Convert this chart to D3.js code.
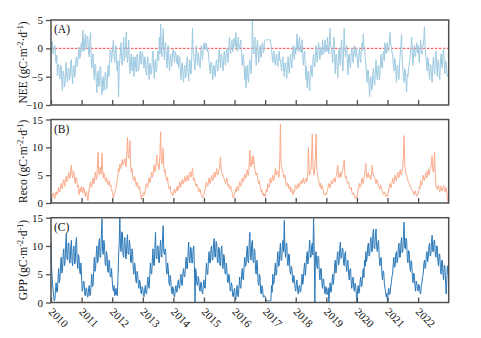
<!DOCTYPE html>
<html><head><meta charset="utf-8">
<script src="https://cdn.jsdelivr.net/npm/d3@7"></script>
<style>
body{margin:0;background:#fff;}
text{font-family:"Liberation Serif","Times New Roman",serif;fill:#111;}
</style>
</head><body>
<svg id="chart" width="481" height="338"></svg>
<script>
// ---- data (weekly-ish samples, 48 per year, 2010-2022) ----
const yearLabels = ["2010","2011","2012","2013","2014","2015","2016","2017","2018","2019","2020","2021","2022"];
const firstYear = 2010;
const stepsPerYear = 48;

const nee = [
 -0.3,-1.2,1.2,-0.5,-1.0,0.3,0.5,-1.6, -2.5,-1.2,-4.8,-3.0,-2.8,-4.5,-5.4,-3.2, -3.0,-6.0,-7.4,-4.0,-4.5,-6.8,-6.5,-3.5, -2.5,-5.2,-6.0,-3.8,-3.5,-5.6,-5.0,-2.4, -2.0,-4.8,-6.2,-3.3,-3.0,-5.1,-4.5,-2.0, -1.5,-3.2,-2.8,-0.8,0.2,-1.8,-1.5,0.4,
 1.0,-0.6,3.2,0.8,-0.5,1.5,2.5,-0.2, 0.5,2.2,1.8,-0.8,-1.5,1.0,2.8,-1.8, -3.5,-1.5,-1.0,-4.2,-5.5,-2.8,-3.0,-6.0, -7.8,-4.5,-4.0,-6.8,-6.5,-3.2,-3.5,-7.0, -8.2,-5.5,-5.0,-7.5,-7.0,-4.2,-4.5,-7.2, -6.8,-3.8,-3.0,-5.0,-2.0,-0.2,-0.5,-2.5,
 -1.0,0.4,1.5,-1.8,-2.5,-0.3,0.5,-2.8, -4.0,-2.2,-8.6,-3.5,-2.0,-0.5,1.0,-2.6, -3.0,-0.8,2.0,-2.2,-1.5,0.6,2.8,-1.2, -2.5,-0.5,1.5,-3.0,-4.5,-2.0,-1.0,-4.0, -3.5,-1.5,-5.0,-2.8,-1.5,-3.6,-4.2,-1.0, -2.0,-4.0,-3.5,-1.2,-0.5,-2.6,-2.8,-0.6,
 -1.0,-2.6,-3.5,-1.5,-2.0,-4.0,-4.8,-2.2, -1.5,-3.8,-5.5,-2.6,-3.0,-4.6,-4.0,-1.8, -0.5,-3.2,-5.3,-2.4,-2.0,-4.2,-3.5,-1.0, -0.5,-2.2,2.0,-1.0,4.3,0.5,-1.5,1.2, 3.5,-0.2,-2.0,0.8,1.0,-1.6,-3.5,-0.6, 0.5,-2.2,-4.0,-1.5,-1.0,-3.2,-2.5,-0.4,
 -0.2,-1.6,-2.5,-0.6,-1.0,-2.2,-2.8,-1.2, -3.5,-2.0,-1.5,-4.2,-5.5,-3.0,-2.5,-4.8, -6.0,-3.6,-3.0,-5.2,-4.8,-2.2,-1.5,-4.0, -5.8,-3.2,-2.0,-4.6,-4.5,-1.2,3.5,-0.5, -1.0,-3.0,-3.8,-1.4,0.5,-1.8,-3.0,-0.8, -1.5,-2.8,-3.5,-1.0,0.5,-1.2,-2.0,0.2,
 1.0,0.2,-0.2,0.9,0.8,-0.5,0.0,-1.0, -2.0,-3.5,-4.5,-2.5,-2.5,-4.2,-5.5,-3.0, -3.0,-4.6,-5.0,-2.4,-2.0,-3.5,-4.0,-1.6, -0.2,-2.2,-3.5,-1.0,-1.0,-3.2,-4.0,-1.8, -0.5,-2.6,-3.0,-0.8,0.0,-1.8,-2.5,0.2, 2.0,-0.4,-1.0,1.0,1.5,-0.6,0.0,1.8,
 1.5,0.2,2.8,0.8,-0.5,1.2,2.0,-0.2, 0.0,1.0,1.5,-1.2,-3.0,-1.8,-1.0,-3.6, -5.5,-3.2,-7.0,-4.2,-3.0,-5.4,-6.0,-2.8, -2.0,-3.8,-4.5,-1.2,5.0,0.8,-1.0,1.2, 2.0,-1.2,-3.0,0.4,1.5,-1.0,-2.5,0.2, 0.5,-1.6,-1.5,0.6,1.0,-0.8,-0.5,1.2,
 1.5,1.5,1.5,1.5,1.5,1.6,1.6,1.5, 1.5,0.8,0.0,-1.5,-2.5,-0.8,-0.5,-2.4, -3.0,-1.6,-1.0,-2.8,-3.2,-1.4,-0.5,-2.2, -2.0,-3.2,-4.0,-2.0,-1.5,-3.6,-5.0,-2.6, -2.5,-4.2,-5.3,-3.0,-1.5,-3.6,-4.5,-2.0, -1.0,-2.8,-3.5,-0.8,0.5,-1.2,-2.0,0.2,
 -1.0,0.6,2.5,-0.2,-0.5,1.2,2.0,-0.6, 0.5,-0.8,1.5,-1.5,-3.0,-1.2,-0.5,-3.4, -5.5,-3.2,-7.0,-4.4,-4.0,-6.2,-7.5,-3.8, -3.0,-4.6,-5.0,-2.0,-1.0,-2.6,-3.3,-1.2, 0.5,-1.6,-2.5,-0.2,1.0,-0.8,-2.0,0.2, 0.0,-1.2,1.5,-0.4,-1.0,0.6,1.5,-0.6,
 0.5,-0.6,2.0,0.2,-1.0,1.2,3.5,0.4, 0.0,-1.4,-2.5,0.4,2.0,-1.6,-4.5,-1.2, -1.0,-3.2,-5.2,-1.6,0.0,-1.8,-3.0,0.2, 1.5,-1.8,-4.0,-0.6,3.5,0.2,-1.5,-0.2, 0.5,-2.4,-4.7,-1.4,-1.0,-2.8,-3.5,-0.8, 0.0,-1.6,-2.5,-0.4,0.5,-1.0,-1.5,0.2,
 -1.0,-2.4,-3.5,-1.2,0.0,-1.8,-2.5,-0.4, 1.0,-0.4,2.5,0.6,0.0,-1.8,-3.0,-4.8, -6.0,-3.8,-4.0,-6.6,-8.5,-5.4,-5.0,-7.4, -7.0,-4.6,-3.5,-6.0,-6.5,-3.8,-2.0,-4.6, -5.5,-3.4,-3.0,-5.6,-5.0,-2.6,-1.0,-3.4, -3.5,-1.4,-0.5,-2.2,1.0,-0.6,-1.0,0.6,
 1.0,-0.6,-0.3,1.2,2.8,0.6,0.5,-0.8, -1.0,-2.6,-4.0,-1.8,-2.0,-4.4,-6.0,-3.2, -3.0,-4.8,-5.5,-2.6,-1.0,0.4,2.5,-1.6, -3.5,-5.2,-6.0,-3.6,-4.0,-6.2,-7.7,-4.6, -5.0,-3.4,-3.0,-1.8,-1.0,0.4,2.0,-1.2, -3.0,-0.8,0.5,-1.4,-1.5,0.2,1.0,-0.8,
 0.5,-1.2,-2.5,-0.2,1.5,-0.4,-1.0,0.6, 0.5,1.8,3.8,0.2,-1.0,-2.6,-4.0,-1.6, -2.0,-4.2,-5.5,-2.8,-3.0,-4.8,-6.0,-3.0, -1.5,-3.4,-4.5,-1.8,-0.5,-2.6,-5.0,-2.4, -2.0,-4.2,-5.5,-2.6,-1.0,-2.8,-3.5,-0.8, 0.0,-2.6,-4.5,-2.2,-2.5,-4.0,-5.0,-4.6
];

const reco = [
 1.5,1.2,1.0,1.6,1.8,1.1,0.8,1.4, 2.0,1.6,1.5,2.4,2.8,2.1,2.0,3.0, 3.5,2.8,2.5,3.8,4.2,3.2,3.0,4.4, 4.8,3.9,3.8,5.0,5.5,4.4,4.5,6.0, 6.8,5.0,4.5,5.8,5.6,4.2,3.5,4.6, 4.5,3.4,2.8,3.2,1.5,2.2,2.7,2.0,
 3.0,2.2,1.8,2.8,2.5,1.6,1.2,2.0, 2.0,1.0,0.4,1.8,2.5,3.2,3.8,2.8, 3.0,4.0,4.5,3.4,3.8,5.0,5.6,4.2, 4.5,7.0,9.2,5.5,5.0,6.4,6.0,5.2, 9.0,5.8,4.5,5.4,5.0,4.2,3.8,4.6, 4.2,3.5,3.2,4.0,3.8,3.0,3.2,2.6,
 2.0,1.4,0.9,1.6,1.8,2.4,2.8,3.4, 4.0,5.2,6.2,5.6,7.0,6.2,6.5,7.2, 7.8,6.8,7.0,7.6,8.0,6.8,6.5,9.5, 11.8,8.5,8.0,9.8,11.2,7.0,5.5,6.2, 5.0,4.2,4.0,4.8,4.5,3.6,3.0,3.8, 3.5,2.8,2.5,3.0,2.0,1.2,0.6,1.4,
 1.2,1.8,2.0,1.5,2.5,3.0,3.5,2.8, 3.0,4.0,4.5,3.6,4.0,5.0,5.5,4.6, 5.0,6.2,6.8,5.6,6.0,7.5,8.6,6.8, 7.0,6.0,6.5,9.0,12.8,8.0,7.0,8.5, 9.8,6.5,5.5,6.0,5.0,4.4,4.0,4.6, 3.2,2.8,2.5,3.0,2.0,1.6,1.8,1.4,
 1.5,2.2,2.5,1.8,2.0,2.6,3.0,2.2, 2.5,3.2,3.8,2.8,3.0,3.8,4.2,3.4, 3.5,4.2,4.8,3.8,4.0,4.6,5.0,4.0, 4.5,5.2,5.6,4.6,4.8,5.6,6.2,4.8, 4.0,4.4,3.8,3.2,3.0,3.4,2.8,2.4, 2.0,2.6,2.5,1.8,1.5,1.2,0.9,1.4,
 1.5,2.0,2.5,3.2,3.8,3.0,3.0,3.8, 4.5,3.6,3.5,4.4,5.0,4.2,4.0,4.8, 5.5,4.6,4.8,5.6,6.2,5.2,5.0,5.8, 6.0,7.2,8.3,6.0,5.5,5.0,5.0,4.6, 4.2,3.8,3.5,4.0,4.5,3.4,3.0,3.4, 2.5,2.8,3.0,2.4,2.0,1.4,0.9,1.4,
 1.5,2.0,2.5,2.0,3.0,2.6,2.2,3.0, 3.8,3.2,3.0,3.8,4.5,3.8,3.8,4.6, 5.2,4.4,4.5,5.4,6.0,5.0,5.0,7.0, 9.5,7.0,6.5,7.5,8.5,7.0,8.3,6.5, 6.0,5.2,5.0,5.4,4.5,3.8,3.5,4.0, 3.0,2.4,2.0,2.4,1.5,1.8,1.2,1.6,
 1.2,1.8,2.5,2.0,3.5,2.8,2.8,3.4, 4.5,3.6,3.8,4.4,5.0,4.0,4.2,5.0, 6.2,5.2,5.0,5.8,5.6,4.6,4.8,8.0, 14.2,7.0,6.5,5.8,5.6,4.8,4.5,5.0, 4.0,3.4,3.0,3.6,3.5,2.8,2.5,3.0, 2.0,2.6,2.5,1.8,1.5,2.2,2.0,2.8,
 3.2,2.6,2.5,3.2,3.5,2.8,3.0,3.6, 4.0,3.4,3.5,4.2,4.5,3.6,3.5,4.2, 4.5,3.8,4.0,6.0,10.0,6.0,5.0,5.8, 6.0,9.0,12.4,6.5,5.5,5.0,6.5,9.0, 12.4,6.0,5.0,4.6,4.0,3.4,3.0,3.6, 2.5,3.2,3.0,2.4,1.8,1.4,1.5,1.8,
 1.5,2.0,2.5,3.0,3.5,2.8,2.8,3.4, 4.0,3.4,3.5,4.2,4.5,3.8,3.8,4.6, 5.0,6.0,6.8,5.0,4.5,5.2,5.5,4.6, 5.0,5.8,6.0,6.8,7.7,5.5,4.5,4.8, 4.0,3.6,3.5,3.8,3.0,2.6,2.5,2.8, 2.0,1.6,1.5,1.8,1.2,0.8,0.9,1.2,
 1.0,1.8,2.5,3.0,3.5,2.8,3.0,3.6, 4.5,3.6,3.5,4.4,5.0,6.0,7.1,5.0, 4.5,5.2,5.5,4.6,5.0,4.4,4.2,5.4, 6.8,5.4,5.0,4.6,4.5,3.8,3.5,4.2, 4.0,3.4,3.0,2.6,2.5,3.2,3.0,2.4, 2.0,1.6,1.5,2.0,1.8,1.2,1.2,1.5,
 1.2,1.8,2.5,3.0,3.5,2.8,2.8,3.6, 4.5,3.6,3.5,4.4,5.0,4.2,4.0,4.8, 5.5,4.6,4.5,5.4,6.0,5.2,5.0,5.8, 6.5,9.0,12.1,7.0,6.0,5.4,5.0,4.6, 4.0,3.6,3.5,3.0,3.0,2.6,2.5,2.2, 2.0,1.6,1.5,2.2,2.0,1.4,1.2,1.6,
 1.5,2.4,3.0,2.6,4.0,3.2,3.5,4.2, 5.0,4.2,4.0,4.8,5.5,4.6,4.5,5.4, 6.0,5.0,5.5,6.2,6.5,7.0,8.5,6.0, 5.5,7.0,9.2,5.0,3.0,2.6,2.5,3.0, 3.2,2.4,2.0,2.6,3.0,2.2,2.2,2.8, 3.2,2.6,2.0,2.4,2.8,2.0,1.0,0.0
];

const gpp = [
 10.5,6.0,4.0,2.5,1.5,0.3,0.5,2.0, 3.5,1.8,2.0,4.0,6.0,3.5,4.0,6.5, 8.0,5.2,5.5,8.5,9.5,6.5,7.0,10.0, 12.2,7.8,7.5,10.5,10.5,7.0,7.0,9.8, 11.0,7.2,6.5,9.5,10.0,6.8,7.0,10.5, 11.5,7.5,6.0,8.5,8.0,5.5,5.0,7.0,
 4.5,2.0,2.5,3.8,3.5,1.5,1.2,2.6, 2.5,1.0,1.0,2.4,3.0,1.2,1.5,3.2, 5.0,2.8,3.0,5.5,8.0,5.5,6.0,8.5, 10.0,7.0,7.5,10.5,11.3,8.0,8.0,12.0, 14.8,9.0,8.5,11.0,10.0,6.8,6.5,9.0, 8.3,5.5,5.3,7.5,7.0,4.6,4.5,6.0,
 4.0,2.5,2.0,3.0,1.2,1.5,2.5,1.4, 1.2,4.0,8.0,10.5,15.0,10.0,9.0,12.5, 12.4,8.5,8.0,11.0,11.5,8.0,7.7,10.5, 12.0,8.6,8.5,11.0,10.0,7.2,7.0,9.5, 9.0,6.0,5.0,7.0,6.5,4.0,3.5,5.5, 5.0,3.0,2.5,4.0,3.5,1.8,1.5,2.8,
 2.5,1.2,1.0,2.2,3.0,1.6,1.5,3.2, 4.5,2.8,2.5,5.0,7.0,5.2,5.0,7.5, 9.5,6.6,6.5,9.5,12.4,8.0,7.7,10.0, 10.0,7.2,7.0,9.8,11.0,8.2,8.0,11.5, 13.6,9.0,8.5,9.5,9.0,5.6,5.0,7.0, 6.0,3.5,3.0,4.8,4.0,2.0,1.5,2.8,
 2.5,1.2,1.0,2.4,3.0,1.8,2.0,3.5, 4.0,2.6,2.5,4.4,5.0,3.2,3.0,5.2, 6.0,4.6,4.5,6.5,8.0,6.0,6.0,8.6, 10.7,7.5,7.0,9.8,9.5,7.0,7.0,9.5, 10.0,6.5,0.0,6.0,5.0,3.2,3.0,4.6, 4.0,2.2,2.0,3.6,3.5,1.8,1.5,3.0,
 4.0,2.6,2.5,5.0,7.0,5.0,5.0,7.5, 9.0,7.0,7.0,9.5,10.0,7.6,7.5,10.5, 11.3,8.2,8.0,10.8,10.5,7.2,7.0,9.8, 9.5,6.6,6.5,9.5,10.0,6.4,6.0,8.5, 8.0,5.2,5.0,7.0,6.0,3.6,3.5,5.0, 4.5,2.2,2.0,3.5,3.0,1.2,1.0,2.0,
 2.5,0.8,0.5,2.0,3.0,1.2,1.0,3.0, 4.5,2.6,2.5,4.8,6.0,4.2,4.0,6.5, 8.0,6.4,6.5,9.0,10.0,7.2,7.0,10.5, 12.4,8.0,7.5,10.5,11.0,7.4,7.0,9.5, 9.0,5.5,5.0,7.5,6.5,3.4,3.0,5.0, 4.5,1.8,1.5,3.0,2.5,1.0,1.0,1.2,
 1.0,0.5,0.3,0.3,0.3,0.3,0.3,0.3, 0.3,0.3,3.0,1.8,5.0,3.2,3.5,5.5, 7.0,4.8,5.0,7.5,9.0,6.4,6.5,9.2, 10.5,7.4,7.5,10.0,11.0,9.0,14.5,9.5, 8.0,10.5,10.5,7.0,6.5,8.6,8.5,5.5, 5.0,6.4,6.0,3.8,3.5,4.8,4.0,2.5,
 2.0,3.4,4.0,2.2,1.5,2.8,3.0,1.8, 2.0,3.6,5.0,3.2,4.0,6.0,7.0,4.8, 6.0,8.0,9.0,6.8,7.5,9.6,11.0,8.0, 8.0,10.0,10.5,8.4,15.0,9.0,0.0,8.5, 9.0,6.6,6.0,8.2,8.0,5.2,4.0,6.0, 6.0,3.6,2.5,4.2,4.0,2.2,1.5,2.8,
 2.5,1.4,1.5,2.6,0.0,2.0,3.5,1.8, 2.0,3.8,5.0,3.2,4.5,6.4,7.5,5.2, 6.0,8.2,9.0,6.6,7.0,9.4,10.7,7.8, 8.0,9.6,9.5,7.0,6.5,8.6,9.0,6.4, 5.5,7.4,7.5,5.0,4.0,5.8,6.0,3.6, 2.5,4.2,4.5,2.6,2.0,3.4,3.0,1.4,
 0.0,2.2,3.0,1.6,2.0,3.8,4.5,2.8, 3.0,5.0,6.0,4.4,7.5,6.4,9.0,7.2, 8.0,10.0,10.5,8.2,8.5,10.6,11.5,9.0, 9.0,12.0,13.0,9.6,9.5,12.0,13.0,9.8, 9.0,10.6,11.0,8.0,6.5,7.8,8.0,5.6, 4.0,5.6,5.5,3.4,2.5,2.0,1.0,1.6,
 0.0,1.8,2.5,1.4,1.5,2.8,3.5,4.6, 5.0,7.0,8.0,6.2,6.5,8.6,9.0,7.0, 7.5,9.8,10.5,8.0,8.0,10.4,11.5,8.8, 9.0,12.0,14.2,9.6,9.5,11.4,11.0,8.0, 7.0,9.2,9.0,6.4,5.5,7.4,7.0,4.6, 3.5,5.2,5.0,3.0,2.0,3.8,3.5,2.2,
 2.0,3.2,3.0,1.8,1.5,3.0,3.5,4.6, 5.0,6.8,7.5,6.0,6.5,8.6,9.0,7.2, 8.0,10.0,10.5,8.2,8.5,10.6,11.9,9.0, 9.0,11.0,11.0,8.4,8.0,10.0,10.0,7.2, 6.5,8.6,8.5,6.0,5.0,7.4,7.5,5.0, 4.0,6.6,6.5,4.0,1.5,4.0,6.5,5.0
];

const neeTicks = [-10,-5,0,5];
const recoTicks = [0,5,10,15];
const gppTicks = [0,5,10,15];

// ---- layout ----
const svg = d3.select("#chart");
const left = 51, right = 448.7;
const x = d3.scaleLinear().domain([firstYear, firstYear + yearLabels.length]).range([left, right]);
const frameColor = "#505050";

const panels = [
  {tag:"(A)", name:"NEE", values:nee, domain:[-10,5], ticks:neeTicks, color:"#9ecae1", width:1.0, top:20, bottom:105, zero:true},
  {tag:"(B)", name:"Reco", values:reco, domain:[0,15], ticks:recoTicks, color:"#fbab8c", width:1.0, top:119.5, bottom:203},
  {tag:"(C)", name:"GPP", values:gpp, domain:[0,15], ticks:gppTicks, color:"#2a78b8", width:1.0, top:217.7, bottom:302.5}
];

panels.forEach((p, pi) => {
  const y = d3.scaleLinear().domain(p.domain).range([p.bottom, p.top]);
  const g = svg.append("g");

  if (p.zero) {
    g.append("line").attr("x1", left).attr("x2", right)
      .attr("y1", y(0)).attr("y2", y(0))
      .attr("stroke", "#ff3b3b").attr("stroke-width", 1).attr("stroke-dasharray", "2.5,1.5");
  }

  const line = d3.line()
    .x((d, i) => x(firstYear + i / stepsPerYear))
    .y(d => y(d));
  g.append("path").datum(p.values)
    .attr("d", line).attr("fill", "none")
    .attr("stroke", p.color).attr("stroke-width", p.width)
    .attr("stroke-linejoin", "round");

  // frame
  g.append("rect").attr("x", left).attr("y", p.top)
    .attr("width", right - left).attr("height", p.bottom - p.top)
    .attr("fill", "none").attr("stroke", frameColor).attr("stroke-width", 1.5);

  // y axis
  const ya = g.append("g").attr("transform", `translate(${left},0)`)
    .call(d3.axisLeft(y).tickValues(p.ticks).tickSize(5).tickPadding(3).tickFormat(d3.format("d")));
  ya.select(".domain").remove();
  ya.selectAll("line").attr("stroke", frameColor).attr("stroke-width", 1.3);
  ya.selectAll("text").style("font-family", '"Liberation Serif",serif').style("font-size", "11px").attr("fill", "#111");

  // x axis (inward ticks)
  const xa = g.append("g").attr("transform", `translate(0,${p.bottom})`)
    .call(d3.axisBottom(x).tickValues(yearLabels.map(Number)).tickSizeInner(-5).tickSizeOuter(0).tickFormat(""));
  xa.select(".domain").remove();
  xa.selectAll("line").attr("stroke", frameColor).attr("stroke-width", 1.3);

  // panel tag
  g.append("text").attr("x", left + 3).attr("y", p.top + 13)
    .style("font-size", "11.5px").text(p.tag);

  // y label with superscripts
  const cy = (p.top + p.bottom) / 2;
  const t = g.append("text")
    .attr("transform", `translate(27,${cy}) rotate(-90)`)
    .attr("text-anchor", "middle").style("font-size", "11.5px");
  t.append("tspan").text(p.name + " (gC·m");
  t.append("tspan").attr("dy", -4).style("font-size", "8px").text("-2");
  t.append("tspan").attr("dy", 4).text("·d");
  t.append("tspan").attr("dy", -4).style("font-size", "8px").text("-1");
  t.append("tspan").attr("dy", 4).text(")");

  if (pi === panels.length - 1) {
    svg.append("g").selectAll("text").data(yearLabels).join("text")
      .attr("transform", d => `translate(${x(+d) - 3},${p.bottom + 10}) rotate(45)`)
      .style("font-size", "11px").text(d => d);
  }
});
</script>
</body></html>
